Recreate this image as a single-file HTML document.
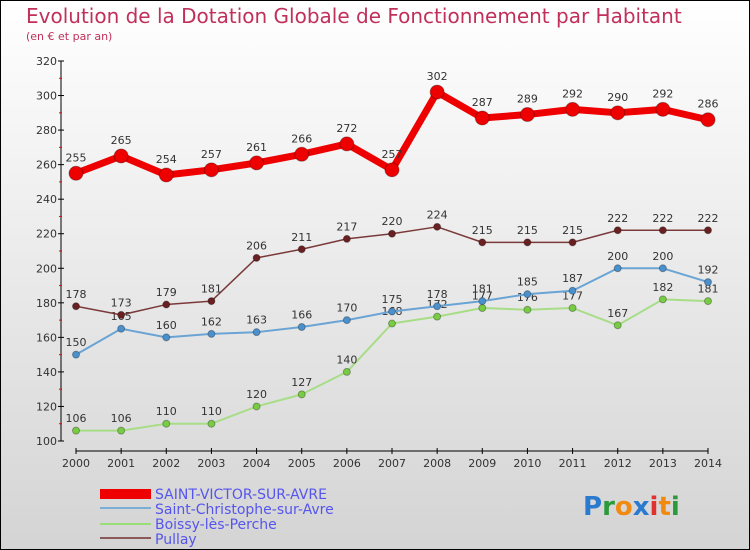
<!DOCTYPE html>
<html><head><meta charset="utf-8"><style>
body{margin:0}
#c{width:748px;height:548px;border:1px solid #000;background:linear-gradient(#fff,#d4d4d4);position:relative;font-family:"DejaVu Sans","Liberation Sans",sans-serif;overflow:hidden}
</style></head><body>
<div id="c">
<svg id="s" width="748" height="548">
<text x="25" y="22" font-size="20" fill="#c0305a">Evolution de la Dotation Globale de Fonctionnement par Habitant</text>
<text x="25" y="39" font-size="11" fill="#c0305a">(en € et par an)</text>
<g id="ax"></g><g id="series"></g>
<g>
<rect x="99" y="488" width="51" height="10" fill="#e00"/>
<text x="154" y="498" font-size="14" fill="#5555ee">SAINT-VICTOR-SUR-AVRE</text>
<rect x="99" y="506" width="51" height="2" fill="#7aaed6"/>
<text x="154" y="513" font-size="14" fill="#5555ee">Saint-Christophe-sur-Avre</text>
<rect x="99" y="522" width="51" height="2" fill="#99dd77"/>
<text x="154" y="528" font-size="14" fill="#5555ee">Boissy-lès-Perche</text>
<rect x="99" y="536" width="51" height="2" fill="#8a5a5a"/>
<text x="154" y="543" font-size="14" fill="#5555ee">Pullay</text>
</g>
<text x="582" y="514" font-size="26" font-weight="bold"><tspan fill="#2a7ad0">P</tspan><tspan fill="#2a9a3a">r</tspan><tspan fill="#f08a10">o</tspan><tspan fill="#2a7ad0">x</tspan><tspan fill="#e03030">i</tspan><tspan fill="#f08a10">t</tspan><tspan fill="#2a9a3a">i</tspan></text>
</svg></div>
<script>
const years=[2000,2001,2002,2003,2004,2005,2006,2007,2008,2009,2010,2011,2012,2013,2014];
const yTicks=[100,120,140,160,180,200,220,240,260,280,300,320];
const saintVictor=[255,265,254,257,261,266,272,257,302,287,289,292,290,292,286];
const saintChristophe=[150,165,160,162,163,166,170,175,178,181,185,187,200,200,192];
const boissy=[106,106,110,110,120,127,140,168,172,177,176,177,167,182,181];
const pullay=[178,173,179,181,206,211,217,220,224,215,215,215,222,222,222];
const NS="http://www.w3.org/2000/svg";
const X=i=>75+i*(707-75)/(years.length-1);
const Y=v=>440-(v-100)*(380/220);
function mk(t,a,p){const e=document.createElementNS(NS,t);for(const k in a)e.setAttribute(k,a[k]);p.appendChild(e);return e;}
const ax=document.getElementById('ax');
let e=mk('line',{x1:60,y1:60,x2:60,y2:440,stroke:'#000'},ax);

e=mk('line',{x1:75,y1:450,x2:707,y2:450,stroke:'#000'},ax);

yTicks.forEach((v,i)=>{
 mk('line',{x1:57,x2:63,y1:Y(v),y2:Y(v),stroke:'#000'},ax);
 if(i<yTicks.length-1)mk('line',{x1:58,x2:61,y1:Y(v+10),y2:Y(v+10),stroke:'#e00'},ax);
 const t=mk('text',{x:56,y:Y(v)+4,'font-size':11,fill:'#333','text-anchor':'end'},ax);t.textContent=v;
 
});
years.forEach((y,i)=>{
 mk('line',{x1:X(i),x2:X(i),y1:447,y2:453,stroke:'#000'},ax);
 const t=mk('text',{x:X(i),y:466,'font-size':11,fill:'#333','text-anchor':'middle'},ax);t.textContent=y;
 
});
const sg=document.getElementById('series');
function draw(data,name,color,w,r,dot){
 const g=mk('g',{},sg);
 
 const l=mk('polyline',{points:data.map((v,i)=>X(i)+','+Y(v)).join(' '),fill:'none',stroke:color,'stroke-width':w,'stroke-linejoin':'round'},g);
 
 data.forEach((v,i)=>{
  const c=mk('circle',{cx:X(i),cy:Y(v),r:r,fill:dot,stroke:'rgba(0,0,0,0.3)'},g);
  
  const t=mk('text',{x:X(i),y:Y(v)-r-5,'font-size':11,fill:'#333','text-anchor':'middle'},g);t.textContent=v;
  
 });
}
draw(boissy,'boissy','#a8dd88',2,3.5,'#77cc44');
draw(saintChristophe,'saint-christophe','#6aa4d4',2,3.5,'#4a90cc');
draw(pullay,'pullay','#7a3a3a',1.5,3.5,'#6a2020');
draw(saintVictor,'saint-victor','#ee0000',7,7,'#ee0000');
</script>
</body></html>
